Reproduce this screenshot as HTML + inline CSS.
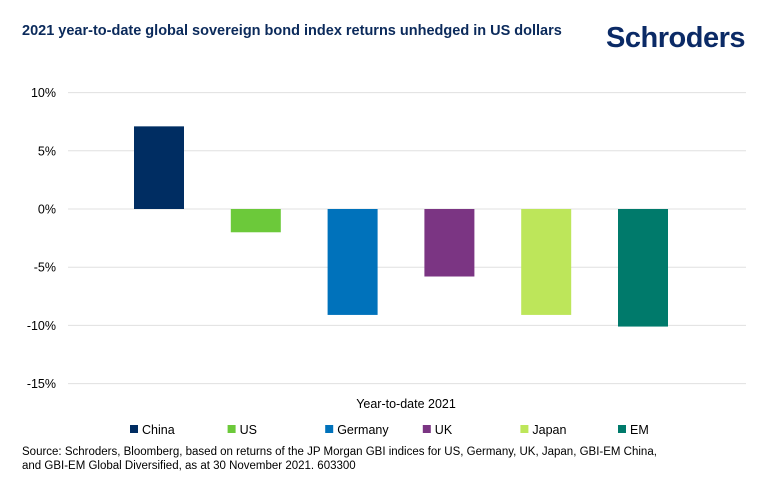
<!DOCTYPE html>
<html><head><meta charset="utf-8"><style>
body{margin:0;width:770px;height:492px;background:#fff;font-family:"Liberation Sans",sans-serif;overflow:hidden}
</style></head><body>
<svg width="770" height="492" font-family="Liberation Sans, sans-serif">
<text x="22" y="35" font-size="14.5" font-weight="bold" fill="#0b2a5b">2021 year-to-date global sovereign bond index returns unhedged in US dollars</text>
<text x="745" y="47" text-anchor="end" font-size="29" font-weight="bold" fill="#0b2a66" letter-spacing="-0.5">Schroders</text>
<g id="grid"></g><g id="bars"></g>
<text x="406" y="408" text-anchor="middle" font-size="12.5" fill="#000">Year-to-date 2021</text>
<g id="legend"></g>
<text x="22" y="455" font-size="11.5" fill="#000">Source: Schroders, Bloomberg, based on returns of the JP Morgan GBI indices for US, Germany, UK, Japan, GBI-EM China,</text>
<text x="22" y="469" font-size="11.5" fill="#000">and GBI-EM Global Diversified, as at 30 November 2021. 603300</text>
</svg>
<script>
const categories=["China","US","Germany","UK","Japan","EM"];
const values=[7.1,-2.0,-9.1,-5.8,-9.1,-10.1];
const colors=["#002d62","#6cc93a","#0072bb","#7b3583","#bde65a","#007a6b"];
const ticks=[10,5,0,-5,-10,-15];
const tickLabels=["10%","5%","0%","-5%","-10%","-15%"];
const NS="http://www.w3.org/2000/svg";
function y(v){return 209-(v)*11.64;}
function x(i){return 159+i*96.8;}
function mk(t,a,p){const e=document.createElementNS(NS,t);for(const k in a)e.setAttribute(k,a[k]);p.appendChild(e);return e;}
const grid=document.getElementById('grid');
ticks.forEach((t,i)=>{
 const l=mk('line',{x1:68,x2:746,y1:y(t),y2:y(t),stroke:'#e0e0e0','stroke-width':1},grid);
 
 
 const tx=mk('text',{x:56,y:y(t)+4.5,'text-anchor':'end','font-size':12.5,fill:'#000'},grid);
 tx.textContent=tickLabels[i];
 
 
});
const bars=document.getElementById('bars');
values.forEach((v,i)=>{
 const r=mk('rect',{x:x(i)-25,width:50,y:Math.min(y(v),y(0)),height:Math.abs(y(v)-y(0)),fill:colors[i]},bars);
 
 
});
const lg=document.getElementById('legend');
categories.forEach((c,i)=>{
 const lx=130+i*97.6;
 const s=mk('rect',{x:lx,y:425,width:8,height:8,fill:colors[i]},lg);
 
 
 const t=mk('text',{x:lx+12,y:434,'font-size':12.5,fill:'#000'},lg);
 t.textContent=c;
 
 
});
</script>
</body></html>
